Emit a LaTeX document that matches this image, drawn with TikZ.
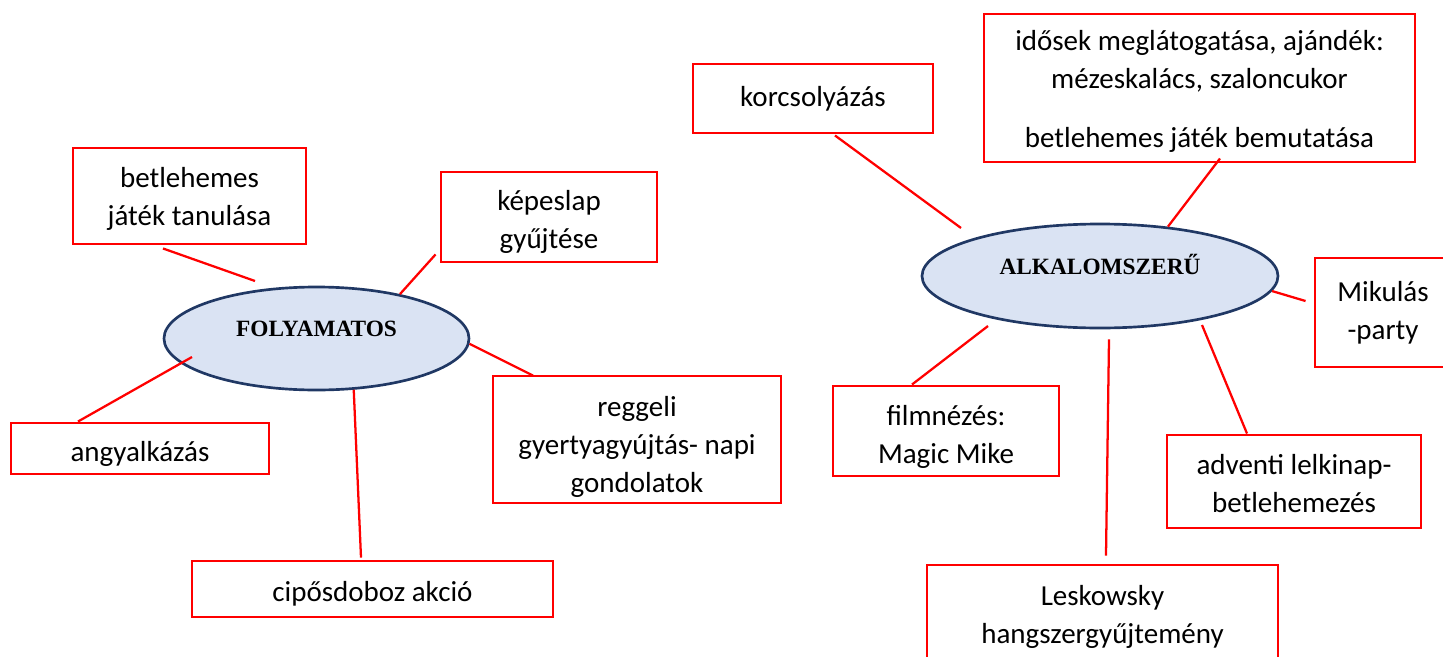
\documentclass[tikz,border=0pt]{standalone}
\usepackage{fontspec}
\setmainfont{Carlito}
\newfontfamily\ovalfont{Liberation Serif}
\usepackage{xcolor}
\usetikzlibrary{shapes.geometric}
\definecolor{ovalfill}{RGB}{218,227,243}
\definecolor{ovalline}{RGB}{32,56,100}
\newcommand{\topgap}[1]{\rule{0pt}{#1}}

\begin{document}
\begin{tikzpicture}[x=0.75pt,y=0.75pt,yscale=-1,xscale=1,
  box/.style={draw=red, line width=2.2pt, align=center, inner sep=0pt, font=\fontsize{21.75}{28.5}\selectfont},
  oval/.style={ellipse, draw=ovalline, fill=ovalfill, line width=2pt, inner sep=0pt, text height=13pt, text depth=16pt, font=\ovalfont\bfseries\fontsize{17.5}{20}\selectfont},
  link/.style={draw=red, line width=1.7pt}]

\useasboundingbox (0,0) rectangle (1443,657);
\clip (0,0) rectangle (1443,657);

\node[oval, minimum width=228.75pt, minimum height=77.25pt] (fol) at (316.5,338.5) {FOLYAMATOS};
\node[oval, minimum width=267pt, minimum height=78pt] (alk) at (1100,276) {ALKALOMSZERŰ};

\node[box, minimum width=174.75pt, minimum height=72pt] (betjat) at (189.5,196) {\topgap{20pt}betlehemes\\játék tanulása};
\node[box, minimum width=162pt, minimum height=67.5pt] (kepes) at (549,217) {\topgap{23pt}képeslap\\gyűjtése};
\node[box, minimum width=216pt, minimum height=95.25pt] (regg) at (637,439.5) {\topgap{26pt}reggeli\\gyertyagyújtás- napi\\gondolatok};
\node[box, minimum width=193.5pt, minimum height=38.25pt] (angy) at (140,448.5) {\topgap{23pt}angyalkázás};
\node[box, minimum width=270.75pt, minimum height=42pt] (cipo) at (372.5,589) {\topgap{21.5pt}cipősdoboz akció};

\node[box, minimum width=180pt, minimum height=51.75pt] (korcs) at (813,98.5) {korcsolyázás};
\node[box, minimum width=323.25pt, minimum height=111pt] (idos) at (1199.5,88) {\topgap{20pt}idősek meglátogatása, ajándék:\\mézeskalács, szaloncukor\\[16pt]betlehemes játék bemutatása};
\node[box, minimum width=102pt, minimum height=81.75pt] (miku) at (1383,312.5) {Mikulás\\-party};
\node[box, minimum width=169.5pt, minimum height=67.5pt] (film) at (946,431) {\topgap{24.5pt}filmnézés:\\Magic Mike};
\node[box, minimum width=190.5pt, minimum height=69.75pt] (advent) at (1294,481.5) {\topgap{18.5pt}adventi lelkinap-\\betlehemezés};
\node[box, minimum width=263.25pt, minimum height=76.5pt] (lesk) at (1102.5,616) {\topgap{17pt}Leskowsky\\hangszergyűjtemény};

\draw[link] ([shift={(-26.5,3)}]betjat.south) -- ([shift={(-61.5,-57.5)}]fol.center);
\draw[link] ([shift={(-4,-9)}]kepes.south west) -- (fol.28);
\draw[link] (fol.-2) -- ([shift={(-104,1)}]regg.north);
\draw[link] ([shift={(-124.5,18.5)}]fol.center) -- ([shift={(-62,0)}]angy.north);
\draw[link] (fol.-54) -- ([shift={(-11.5,-2)}]cipo.north);

\draw[link] ([shift={(22,1)}]korcs.south) -- ([shift={(-139,-48)}]alk.center);
\draw[link] ([shift={(20.5,-5)}]idos.south) -- (alk.36);
\draw[link] (alk.-5) -- ([shift={(-8,-11.5)}]miku.west);
\draw[link] ([shift={(-112,50)}]alk.center) -- ([shift={(-34,0)}]film.north);
\draw[link] ([shift={(9,10)}]alk.south) -- ([shift={(3.5,-8)}]lesk.north);
\draw[link] ([shift={(102,49)}]alk.center) -- ([shift={(-47,0)}]advent.north);

\end{tikzpicture}
\end{document}
